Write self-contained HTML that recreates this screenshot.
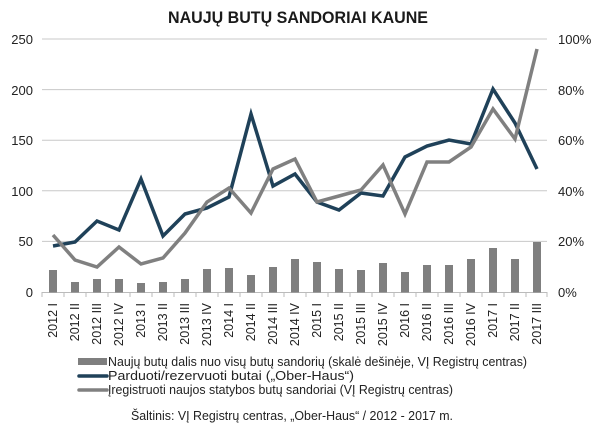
<!DOCTYPE html>
<html><head><meta charset="utf-8"><style>
html,body{margin:0;padding:0;background:#fff;}
svg{display:block;font-family:"Liberation Sans",sans-serif;}
</style></head><body>
<svg width="600" height="435" viewBox="0 0 600 435" xmlns="http://www.w3.org/2000/svg">
<text x="298" y="23" text-anchor="middle" font-size="17" font-weight="bold" fill="#1a1a1a" textLength="260" lengthAdjust="spacingAndGlyphs">NAUJŲ BUTŲ SANDORIAI KAUNE</text>
<g stroke="#c8c8c8" stroke-width="1">
<line x1="42" y1="39" x2="547" y2="39"/>
<line x1="42" y1="89.6" x2="547" y2="89.6"/>
<line x1="42" y1="140.2" x2="547" y2="140.2"/>
<line x1="42" y1="190.8" x2="547" y2="190.8"/>
<line x1="42" y1="241.4" x2="547" y2="241.4"/>
</g>
<line x1="42" y1="292.5" x2="547" y2="292.5" stroke="#bbb" stroke-width="1"/>
<g font-size="13" fill="#222" text-anchor="end">
<text x="33" y="44">250</text><text x="33" y="95">200</text><text x="33" y="145">150</text><text x="33" y="196">100</text><text x="33" y="246">50</text><text x="33" y="297">0</text>
</g>
<g font-size="13" fill="#222">
<text x="558" y="44">100%</text><text x="558" y="95">80%</text><text x="558" y="145">60%</text><text x="558" y="196">40%</text><text x="558" y="246">20%</text><text x="558" y="297">0%</text>
</g>
<g fill="#7f7f7f">
<rect x="49" y="270" width="8" height="22.5"/><rect x="71" y="282" width="8" height="10.5"/><rect x="93" y="279" width="8" height="13.5"/><rect x="115" y="279" width="8" height="13.5"/><rect x="137" y="283" width="8" height="9.5"/><rect x="159" y="282" width="8" height="10.5"/><rect x="181" y="279" width="8" height="13.5"/><rect x="203" y="269" width="8" height="23.5"/><rect x="225" y="268" width="8" height="24.5"/><rect x="247" y="275" width="8" height="17.5"/><rect x="269" y="267" width="8" height="25.5"/><rect x="291" y="259" width="8" height="33.5"/><rect x="313" y="262" width="8" height="30.5"/><rect x="335" y="269" width="8" height="23.5"/><rect x="357" y="270" width="8" height="22.5"/><rect x="379" y="263" width="8" height="29.5"/><rect x="401" y="272" width="8" height="20.5"/><rect x="423" y="265" width="8" height="27.5"/><rect x="445" y="265" width="8" height="27.5"/><rect x="467" y="259" width="8" height="33.5"/><rect x="489" y="248" width="8" height="44.5"/><rect x="511" y="259" width="8" height="33.5"/><rect x="533" y="242" width="8" height="50.5"/>
</g>
<g stroke="#bbb" stroke-width="1">
<line x1="42" y1="292" x2="42" y2="297"/><line x1="64" y1="292" x2="64" y2="297"/><line x1="86" y1="292" x2="86" y2="297"/><line x1="108" y1="292" x2="108" y2="297"/><line x1="130" y1="292" x2="130" y2="297"/><line x1="152" y1="292" x2="152" y2="297"/><line x1="174" y1="292" x2="174" y2="297"/><line x1="196" y1="292" x2="196" y2="297"/><line x1="218" y1="292" x2="218" y2="297"/><line x1="240" y1="292" x2="240" y2="297"/><line x1="262" y1="292" x2="262" y2="297"/><line x1="284" y1="292" x2="284" y2="297"/><line x1="306" y1="292" x2="306" y2="297"/><line x1="328" y1="292" x2="328" y2="297"/><line x1="350" y1="292" x2="350" y2="297"/><line x1="372" y1="292" x2="372" y2="297"/><line x1="394" y1="292" x2="394" y2="297"/><line x1="416" y1="292" x2="416" y2="297"/><line x1="438" y1="292" x2="438" y2="297"/><line x1="460" y1="292" x2="460" y2="297"/><line x1="482" y1="292" x2="482" y2="297"/><line x1="504" y1="292" x2="504" y2="297"/><line x1="526" y1="292" x2="526" y2="297"/><line x1="547" y1="292" x2="547" y2="297"/>
</g>
<polyline fill="none" stroke="#1f4159" stroke-width="3.5" stroke-linejoin="miter" points="53,246 75,242 97,221 119,230 141,179 163,236 185,214 207,208 229,197 251,114 273,186 295,174 317,202 339,210 361,193 383,196 405,157 427,146 449,140 471,144 493,89 515,123 537,169"/>
<polyline fill="none" stroke="#808080" stroke-width="3.5" stroke-linejoin="miter" points="53,235 75,260 97,267 119,247 141,264 163,258 185,233 207,202 229,188 251,213 273,169 295,159 317,202 339,196 361,190 383,165 405,214 427,162 449,162 471,147 493,109 515,139 537,49"/>
<g font-size="12.5" fill="#222" text-anchor="end">
<text transform="translate(57,303) rotate(-90)">2012 I</text><text transform="translate(79,303) rotate(-90)">2012 II</text><text transform="translate(101,303) rotate(-90)">2012 III</text><text transform="translate(123,303) rotate(-90)">2012 IV</text><text transform="translate(145,303) rotate(-90)">2013 I</text><text transform="translate(167,303) rotate(-90)">2013 II</text><text transform="translate(189,303) rotate(-90)">2013 III</text><text transform="translate(211,303) rotate(-90)">2013 IV</text><text transform="translate(233,303) rotate(-90)">2014 I</text><text transform="translate(255,303) rotate(-90)">2014 II</text><text transform="translate(277,303) rotate(-90)">2014 III</text><text transform="translate(299,303) rotate(-90)">2014 IV</text><text transform="translate(321,303) rotate(-90)">2015 I</text><text transform="translate(343,303) rotate(-90)">2015 II</text><text transform="translate(365,303) rotate(-90)">2015 III</text><text transform="translate(387,303) rotate(-90)">2015 IV</text><text transform="translate(409,303) rotate(-90)">2016 I</text><text transform="translate(431,303) rotate(-90)">2016 II</text><text transform="translate(453,303) rotate(-90)">2016 III</text><text transform="translate(475,303) rotate(-90)">2016 IV</text><text transform="translate(497,303) rotate(-90)">2017 I</text><text transform="translate(519,303) rotate(-90)">2017 II</text><text transform="translate(541,303) rotate(-90)">2017 III</text>
</g>
<rect x="78" y="358" width="29" height="7" fill="#7f7f7f"/>
<line x1="79" y1="376" x2="107" y2="376" stroke="#1f4159" stroke-width="3.5" stroke-linecap="round"/>
<line x1="79" y1="390" x2="107" y2="390" stroke="#808080" stroke-width="3.5" stroke-linecap="round"/>
<g font-size="13" fill="#222">
<text x="108" y="366" textLength="419" lengthAdjust="spacingAndGlyphs">Naujų butų dalis nuo visų butų sandorių (skalė dešinėje, VĮ Registrų centras)</text>
<text x="108" y="380" textLength="246" lengthAdjust="spacingAndGlyphs">Parduoti/rezervuoti butai („Ober-Haus“)</text>
<text x="108" y="394" textLength="345" lengthAdjust="spacingAndGlyphs">Įregistruoti naujos statybos butų sandoriai (VĮ Registrų centras)</text>
<text x="131" y="420" textLength="322" lengthAdjust="spacingAndGlyphs">Šaltinis: VĮ  Registrų centras, „Ober-Haus“  / 2012 - 2017 m.</text>
</g>
</svg>
</body></html>
